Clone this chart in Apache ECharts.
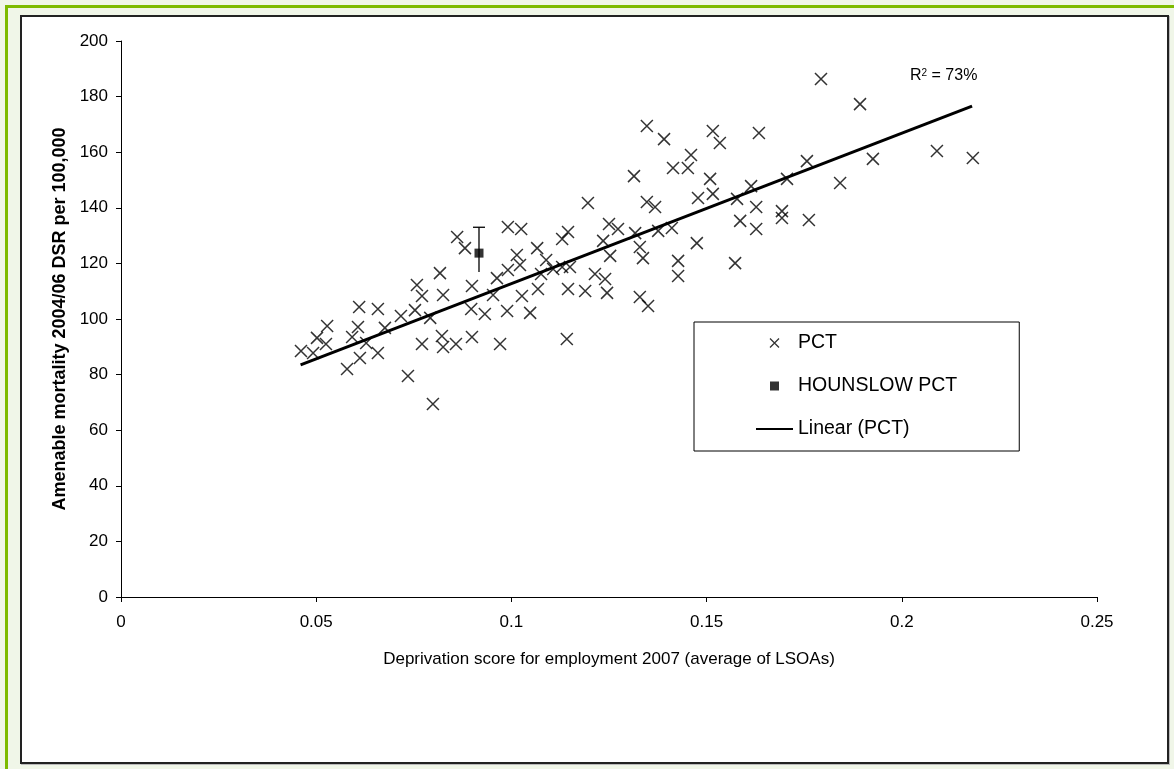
<!DOCTYPE html>
<html>
<head>
<meta charset="utf-8">
<title>Amenable mortality vs deprivation</title>
<script src="https://cdn.jsdelivr.net/npm/echarts@6/dist/echarts.min.js"></script>
<style>
html, body { margin: 0; padding: 0; width: 1174px; height: 769px; overflow: hidden; background: #f0f6e8; }
#outer { position: absolute; left: 5px; top: 5px; width: 1220px; height: 820px; box-sizing: border-box; border: 3px solid #7dbb00; background: #f0f6e8; }
#inner { position: absolute; left: 20px; top: 15px; width: 1149px; height: 749px; box-sizing: border-box; border: 2px solid #222; background: #fff; box-shadow: 1px 1px 0 #bbb; }
#container { position: absolute; left: 0; top: 0; width: 1174px; height: 769px; }
</style>
</head>
<body>
<div id="outer"></div>
<div id="inner"></div>
<div id="container"></div>
<script>
// PCT points: employment deprivation score vs amenable mortality DSR
var pctX = [
    0.0461, 0.0492, 0.0502, 0.0528, 0.0525, 0.0579, 0.0610, 0.0658, 0.0607, 0.0592,
    0.0612, 0.0658, 0.0628, 0.0676, 0.0717, 0.0753, 0.0758, 0.0771, 0.0817, 0.0825,
    0.0792, 0.0822, 0.0771, 0.0825, 0.0858, 0.0899, 0.0897, 0.0899, 0.0861, 0.0881,
    0.0735, 0.0799,
    0.1196, 0.0991, 0.1025, 0.1145, 0.1130, 0.1066, 0.1235, 0.1253, 0.1273, 0.1317,
    0.1329, 0.1337, 0.1376, 0.1014, 0.1022, 0.1089, 0.0991, 0.0963, 0.1076, 0.1107,
    0.1130, 0.1150, 0.1214, 0.1240, 0.1068, 0.1145, 0.1189, 0.1245, 0.1027, 0.0953,
    0.0932, 0.0989, 0.1048, 0.1329, 0.1350, 0.1142, 0.0971, 0.1347, 0.1368,
    0.1347, 0.1391, 0.1516, 0.1534, 0.1634, 0.1460, 0.1414, 0.1452, 0.1314, 0.1509,
    0.1478, 0.1516, 0.1578, 0.1614, 0.1627, 0.1586, 0.1627, 0.1250, 0.1411, 0.1475,
    0.1427, 0.1427, 0.1573,
    0.1793, 0.1893, 0.1757, 0.1926, 0.2090, 0.2182, 0.1706, 0.1842, 0.1693, 0.1762,
    0.1693
];
var pctY = [
    88.5, 87.8, 93.2, 97.5, 91.0, 82.0, 104.3, 103.6, 97.1, 93.5,
    86.0, 87.8, 91.4, 96.8, 101.1, 103.2, 112.2, 108.3, 116.5, 108.6,
    100.4, 93.9, 91.0, 89.9, 91.0, 93.5, 103.6, 111.9, 129.5, 125.5,
    79.5, 69.4,
    141.7, 133.1, 132.4, 131.3, 128.8, 125.5, 128.1, 122.7, 132.4, 130.9,
    125.9, 121.9, 131.7, 123.0, 119.4, 121.2, 117.6, 114.7, 116.2, 118.0,
    118.7, 118.7, 116.2, 114.4, 110.8, 110.8, 110.1, 109.4, 108.3, 108.6,
    101.8, 102.9, 102.2, 107.9, 104.7, 92.8, 91.0, 142.1, 140.3,
    169.4, 164.7, 167.6, 163.3, 166.9, 159.0, 154.3, 154.3, 151.4, 150.4,
    143.5, 145.0, 143.2, 147.8, 140.3, 135.3, 132.4, 134.2, 132.7, 127.3,
    120.9, 115.5, 120.1,
    186.3, 177.3, 156.8, 157.6, 160.4, 157.9, 150.4, 148.9, 136.3, 135.6,
    138.8
];

// Hounslow PCT with its confidence interval
var hounslowX = [0.0917];
var hounslowY = [123.7];
var hounslowLow = [116.9];
var hounslowHigh = [133.0];

// Linear trend line end points
var trendX = [0.046, 0.218];
var trendY = [83.5, 176.6];

var rSquared = '73%';

var crossPath = 'path://M0,0L10,10M10,0L0,10';
var squarePath = 'path://M0,0L10,0L10,10L0,10Z';
var font = 'Liberation Sans, Arial, sans-serif';

function zip(xs, ys) {
    return xs.map(function (x, i) { return [x, ys[i]]; });
}

var dom = document.getElementById('container');
var myChart = echarts.init(dom);

var option = {
    backgroundColor: 'transparent',
    animation: false,
    textStyle: { fontFamily: font, color: '#000' },
    title: {
        left: 905,
        top: 63,
        text: '{a|R}{s|2}{a| = ' + rSquared + '}',
        textStyle: {
            fontWeight: 'normal',
            rich: {
                a: { fontSize: 16, fontWeight: 'normal', fontFamily: font, color: '#000', verticalAlign: 'bottom' },
                s: { fontSize: 10, fontWeight: 'normal', fontFamily: font, color: '#000', verticalAlign: 'top', padding: [0, 0, 6, 0] }
            }
        }
    },
    grid: { left: 121, right: 77, top: 41, bottom: 172 },
    legend: {
        orient: 'vertical',
        left: 694,
        top: 322,
        padding: [11, 62, 12, 61],
        itemGap: 23,
        itemWidth: 37,
        itemHeight: 9,
        borderColor: '#000',
        borderWidth: 1,
        backgroundColor: '#fff',
        textStyle: { fontSize: 19.5, fontFamily: font, color: '#000' },
        data: [
            { name: 'PCT', icon: crossPath, itemStyle: { color: 'transparent', borderColor: '#000', borderWidth: 1.3 } },
            { name: 'HOUNSLOW PCT', icon: squarePath, itemStyle: { color: '#000', borderWidth: 0 } },
            { name: 'Linear (PCT)', itemStyle: { color: 'transparent', borderWidth: 0 } }
        ]
    },
    xAxis: {
        type: 'value',
        min: 0,
        max: 0.25,
        interval: 0.05,
        name: 'Deprivation score for employment 2007 (average of LSOAs)',
        nameLocation: 'middle',
        nameGap: 54,
        nameTextStyle: { fontSize: 17, fontFamily: font, color: '#000' },
        axisLine: { lineStyle: { color: '#000', width: 1 } },
        axisTick: { show: true, length: 5, lineStyle: { color: '#000' } },
        axisLabel: { fontSize: 17, fontFamily: font, color: '#000', margin: 17 },
        splitLine: { show: false }
    },
    yAxis: {
        type: 'value',
        min: 0,
        max: 200,
        interval: 20,
        name: 'Amenable mortality 2004/06 DSR per 100,000',
        nameLocation: 'middle',
        nameGap: 52,
        nameTextStyle: { fontSize: 18, fontWeight: 'bold', fontFamily: font, color: '#000' },
        axisLine: { show: true, lineStyle: { color: '#000', width: 1 } },
        axisTick: { show: true, length: 5, lineStyle: { color: '#000' } },
        axisLabel: { fontSize: 17, fontFamily: font, color: '#000', margin: 13 },
        splitLine: { show: false }
    },
    series: [
        {
            name: 'PCT',
            type: 'scatter',
            symbol: crossPath,
            symbolSize: 12,
            itemStyle: { color: 'transparent', borderColor: '#000', borderWidth: 1.5 },
            data: zip(pctX, pctY),
            z: 3
        },
        {
            name: 'HOUNSLOW CI',
            type: 'custom',
            silent: true,
            data: hounslowX.map(function (x, i) { return [x, hounslowLow[i], hounslowHigh[i]]; }),
            renderItem: function (params, api) {
                var top = api.coord([api.value(0), api.value(2)]);
                var bot = api.coord([api.value(0), api.value(1)]);
                var st = { stroke: '#000', lineWidth: 1.3 };
                return {
                    type: 'group',
                    children: [
                        { type: 'line', shape: { x1: top[0], y1: top[1], x2: bot[0], y2: bot[1] }, style: st },
                        { type: 'line', shape: { x1: top[0] - 6, y1: top[1], x2: top[0] + 6, y2: top[1] }, style: st }
                    ]
                };
            },
            z: 4
        },
        {
            name: 'HOUNSLOW PCT',
            type: 'scatter',
            symbol: 'rect',
            symbolSize: 9,
            itemStyle: { color: '#000' },
            data: zip(hounslowX, hounslowY),
            z: 5
        },
        {
            name: 'Linear (PCT)',
            type: 'line',
            symbol: 'none',
            color: '#000',
            lineStyle: { color: '#000', width: 3 },
            data: zip(trendX, trendY),
            z: 4
        }
    ]
};

if (option && typeof option === 'object') {
    myChart.setOption(option, true);
}
</script>
</body>
</html>
